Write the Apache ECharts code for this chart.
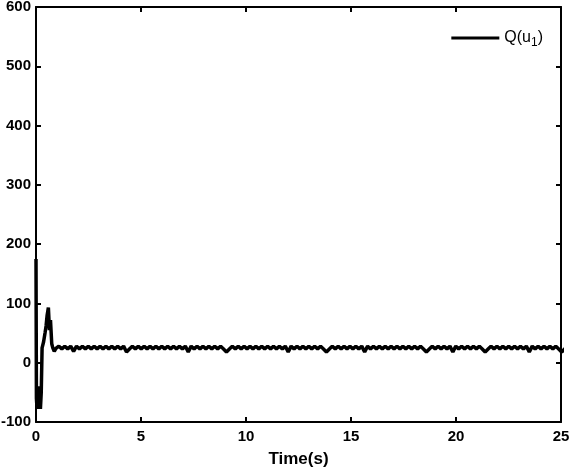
<!DOCTYPE html>
<html>
<head>
<meta charset="utf-8">
<script src="https://cdn.jsdelivr.net/npm/echarts@6/dist/echarts.min.js"></script>
<style>
  html, body { margin: 0; padding: 0; background: #fff; }
  #chart { width: 570px; height: 469px; }
</style>
</head>
<body>
<div id="chart"></div>
<script>
// transient part as [time, value]
const transientPoints = [
  [0, 175], [0.02, -60], [0.05, -78], [0.09, -40], [0.13, -78],
  [0.17, -45], [0.21, -78], [0.25, -50], [0.29, 25], [0.36, 35],
  [0.43, 50], [0.48, 62], [0.53, 80], [0.59, 93], [0.64, 55],
  [0.69, 72], [0.75, 32], [0.8, 25], [0.87, 19], [0.95, 24]
]

// settled part, one value every STEADY_DT seconds from STEADY_T0
const STEADY_T0 = 1.09
const STEADY_DT = 0.14
const steadyValues = [
  28, 23, 28, 23, 28, 19, 28, 23, 28, 23, 28, 23, 28, 23, 28, 23,
  28, 23, 28, 23, 28, 23, 28, 18, 23, 28, 23, 28, 23, 28, 23, 28,
  23, 28, 23, 28, 23, 28, 23, 28, 23, 28, 23, 28, 18, 28, 23, 28,
  23, 28, 23, 28, 23, 28, 23, 28, 23, 18, 23, 28, 23, 28, 23, 28,
  23, 28, 23, 28, 23, 28, 23, 28, 23, 28, 23, 28, 23, 28, 18, 28,
  23, 28, 23, 28, 23, 28, 23, 28, 23, 28, 23, 18, 23, 28, 23, 28,
  23, 28, 23, 28, 23, 28, 23, 28, 18, 28, 23, 28, 23, 28, 23, 28,
  23, 28, 23, 28, 23, 28, 23, 28, 23, 28, 23, 28, 23, 18, 23, 28,
  23, 28, 23, 28, 23, 28, 18, 28, 23, 28, 23, 28, 23, 28, 23, 28,
  23, 18, 23, 28, 23, 28, 23, 28, 23, 28, 23, 28, 23, 28, 23, 28,
  18, 28, 23, 28, 23, 28, 23, 28, 23, 28, 23, 18, 23, 28, 23, 28
]

const xTicks = [0, 5, 10, 15, 20, 25]
const yTicks = [-100, 0, 100, 200, 300, 400, 500, 600]

const seriesData = transientPoints.concat(
  steadyValues.map((v, i) => [STEADY_T0 + i * STEADY_DT, v])
)

const chart = echarts.init(document.getElementById('chart'), null, { renderer: 'canvas' })

const font = 'Liberation Sans, Arial, Helvetica, sans-serif'
const axisLine = { show: true, onZero: false, lineStyle: { color: '#000', width: 2 } }
const tick = { show: true, inside: true, length: 5, lineStyle: { color: '#000', width: 2 } }
const label = { color: '#000', fontFamily: font, fontSize: 15, fontWeight: 'bold' }

const option = {
  animation: false,
  backgroundColor: '#fff',
  grid: { left: 36, right: 9, top: 7, bottom: 47, containLabel: false, outerBoundsMode: 'none' },
  legend: {
    right: 22,
    top: 22,
    itemWidth: 48,
    itemHeight: 3,
    itemGap: 6,
    icon: 'rect',
    data: ['Q(u1)'],
    formatter: () => '{a|Q(u}{b|1}{a|)}',
    textStyle: {
      rich: {
        a: { fontFamily: font, fontSize: 16, color: '#000', lineHeight: 20 },
        b: { fontFamily: font, fontSize: 12, color: '#000', padding: [10, 0, 0, 0], lineHeight: 20 }
      }
    }
  },
  xAxis: [
    {
      type: 'value', min: 0, max: 25, interval: 5,
      name: 'Time(s)', nameLocation: 'middle', nameGap: 29,
      nameTextStyle: { color: '#000', fontFamily: font, fontSize: 17, fontWeight: 'bold' },
      axisLine, axisTick: tick,
      axisLabel: { ...label, margin: 7, formatter: (v) => (xTicks.includes(v) ? String(v) : '') },
      splitLine: { show: false }
    },
    {
      type: 'value', position: 'top', min: 0, max: 25, interval: 5,
      axisLine, axisTick: tick, axisLabel: { show: false }, splitLine: { show: false }
    }
  ],
  yAxis: [
    {
      type: 'value', min: -100, max: 600, interval: 100,
      axisLine, axisTick: tick,
      axisLabel: { ...label, margin: 5, formatter: (v) => (yTicks.includes(v) ? String(v) : '') },
      splitLine: { show: false }
    },
    {
      type: 'value', position: 'right', min: -100, max: 600, interval: 100,
      axisLine, axisTick: tick, axisLabel: { show: false }, splitLine: { show: false }
    }
  ],
  series: [
    {
      name: 'Q(u1)',
      type: 'line',
      data: seriesData,
      showSymbol: false,
      symbol: 'none',
      clip: true,
      color: '#000',
      lineStyle: { color: '#000', width: 3.5 }
    }
  ]
}

chart.setOption(option)
</script>
</body>
</html>
